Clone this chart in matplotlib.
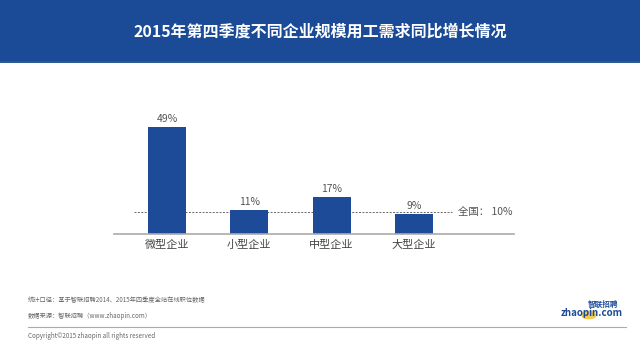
import matplotlib.pyplot as plt
from matplotlib.patches import Rectangle, Circle

plt.rcParams['font.family'] = ['Noto Sans CJK SC', 'DejaVu Sans']

categories = ['微型企业', '小型企业', '中型企业', '大型企业']
growth = [49, 11, 17, 9]
national = 10
title = '2015年第四季度不同企业规模用工需求同比增长情况'
notes = ['统计口径：基于智联招聘2014、2015年四季度全站在线职位数据',
         '数据来源：智联招聘（www.zhaopin.com）']
copyright_text = 'Copyright©2015 zhaopin all rights reserved'

W, H = 640, 348
fig = plt.figure(figsize=(W / 100, H / 100), dpi=100)
fig.patch.set_facecolor('white')

# header band
fig.patches.append(Rectangle((0, 1 - 62 / H), 1, 62 / H, transform=fig.transFigure,
                             facecolor='#1b4a97', edgecolor='none', zorder=0))
fig.patches.append(Rectangle((0, 1 - 63 / H), 1, 2 / H, transform=fig.transFigure,
                             facecolor='#2d5a8e', edgecolor='none', zorder=0))
fig.text(0.5, 1 - 32 / H, title, color='white', fontsize=11.5, fontweight='bold',
         ha='center', va='center')

# chart area
ax = fig.add_axes([114 / W, (H - 234) / H, 400 / W, 131 / H])
x = list(range(len(categories)))
bars = ax.bar(x, growth, width=0.46, color='#1d4b98', zorder=2)
for xi, v in zip(x, growth):
    ax.text(xi, v + 1.5, f'{v}%', ha='center', va='bottom', fontsize=7.5, color='#555555')

ax.plot([-0.40, 3.46], [national, national], linestyle=(0, (2, 1.5)), color='#666666',
        linewidth=0.7, zorder=1)
ax.text(3.53, national, f'全国： {national}%', ha='left', va='center', fontsize=7.5,
        color='#555555')

ax.set_xlim(-0.644, 4.215)
ax.set_ylim(0, 60)
ax.set_xticks(x)
ax.set_xticklabels(categories, fontsize=8, color='#444444')
ax.tick_params(axis='x', length=0, pad=4)
ax.set_yticks([])
for s in ['top', 'right', 'left']:
    ax.spines[s].set_visible(False)
ax.spines['bottom'].set_color('#aaaaaa')
ax.spines['bottom'].set_linewidth(1.2)

# footer
fig.text(28 / W, 1 - 300 / H, notes[0], fontsize=4.5, color='#666666', va='center')
fig.text(28 / W, 1 - 316 / H, notes[1], fontsize=4.5, color='#666666', va='center')
fig.add_artist(plt.Line2D([28 / W, 626 / W], [1 - 327 / H, 1 - 327 / H],
                          color='#aaaaaa', linewidth=0.8))
fig.text(28 / W, 1 - 336 / H, copyright_text, fontsize=4.5, color='#666666', va='center')

# logo
fig.patches.append(Circle((589 / W, 1 - 315 / H), 8 / W, transform=fig.transFigure,
                          facecolor='#f2c230', edgecolor='none', alpha=0.85))
fig.text(603 / W, 1 - 304 / H, '智联招聘', fontsize=5.5, color='#1d4b98', fontweight='bold',
         ha='center', va='center')
fig.text(592 / W, 1 - 313 / H, 'zhaopin.com', fontsize=7, color='#1d4b98',
         fontweight='bold', style='italic', ha='center', va='center')

fig.savefig('out.png', dpi=100)
